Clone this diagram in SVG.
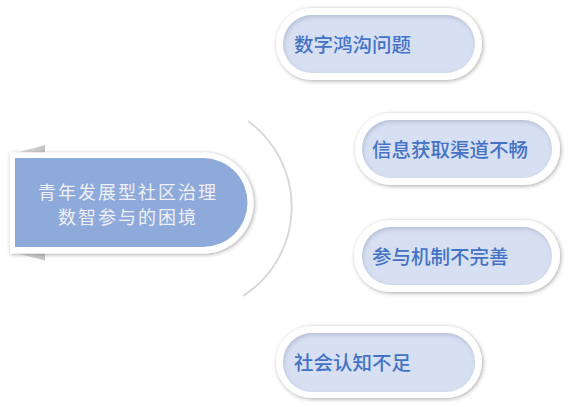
<svg xmlns="http://www.w3.org/2000/svg" width="568" height="407" viewBox="0 0 568 407">
<defs>
<filter id="sh" x="-20%" y="-30%" width="140%" height="160%">
<feDropShadow dx="1" dy="1" stdDeviation="2" flood-color="#000" flood-opacity="0.35"/>
</filter>
<filter id="inset" x="-10%" y="-20%" width="120%" height="140%">
<feOffset dx="1" dy="2" in="SourceAlpha" result="o"/>
<feGaussianBlur in="o" stdDeviation="2" result="b"/>
<feComposite in="SourceAlpha" in2="b" operator="out" result="ring"/>
<feFlood flood-color="#7080a0" flood-opacity="0.45"/>
<feComposite in2="ring" operator="in" result="s"/>
<feMerge><feMergeNode in="SourceGraphic"/><feMergeNode in="s"/></feMerge>
</filter>
<linearGradient id="tab" x1="0" y1="0" x2="1" y2="0">
<stop offset="0" stop-color="#e4e4e4"/>
<stop offset="1" stop-color="#c4c4c4"/>
</linearGradient>
</defs>
<style>
.outer{fill:#ffffff;filter:url(#sh)}
.inner{fill:#d7e0f3;filter:url(#inset)}
.lbl{font-family:"Noto Sans CJK SC","Noto Sans",sans-serif;font-size:19.5px;fill:#4472c4;font-weight:500}
.ctr{font-family:"Noto Sans CJK SC","Noto Sans",sans-serif;font-size:18px;fill:#eef0f4;letter-spacing:2px;text-anchor:middle}
</style>
<g id="connectors">
<path d="M248,121 A106,106 0 0 1 243,296" fill="none" stroke="#d9d9d9" stroke-width="2"/>
</g>
<g id="center">
<polygon points="17,152.5 45,145 45,152.5" fill="url(#tab)"/>
<polygon points="17,253.5 45,260.5 45,253.5" fill="url(#tab)"/>
<path class="outer" d="M10,152.5 H203 A50.5,50.5 0 0 1 203,253.5 H10 Z"/>
<path d="M15,158 H203 A44.5,44.5 0 0 1 203,247 H15 Z" fill="#8eaadb"/>
<text class="ctr" x="128" y="199">青年发展型社区治理</text>
<text class="ctr" x="128" y="224">数智参与的困境</text>
</g>
<g id="n1">
<rect class="outer" x="276" y="8" width="206" height="72" rx="36"/>
<rect class="inner" x="283" y="15" width="192" height="58" rx="29"/>
<text class="lbl" x="294" y="52">数字鸿沟问题</text>
</g>
<g id="n2">
<rect class="outer" x="355" y="113" width="205" height="72" rx="36"/>
<rect class="inner" x="362" y="120" width="190" height="58" rx="29"/>
<text class="lbl" x="372" y="157">信息获取渠道不畅</text>
</g>
<g id="n3">
<rect class="outer" x="354" y="220" width="206" height="72" rx="36"/>
<rect class="inner" x="362" y="227" width="190" height="58" rx="29"/>
<text class="lbl" x="372" y="264">参与机制不完善</text>
</g>
<g id="n4">
<rect class="outer" x="276" y="326" width="206" height="72" rx="36"/>
<rect class="inner" x="283" y="333" width="192" height="59" rx="29"/>
<text class="lbl" x="294" y="370">社会认知不足</text>
</g>
</svg>
